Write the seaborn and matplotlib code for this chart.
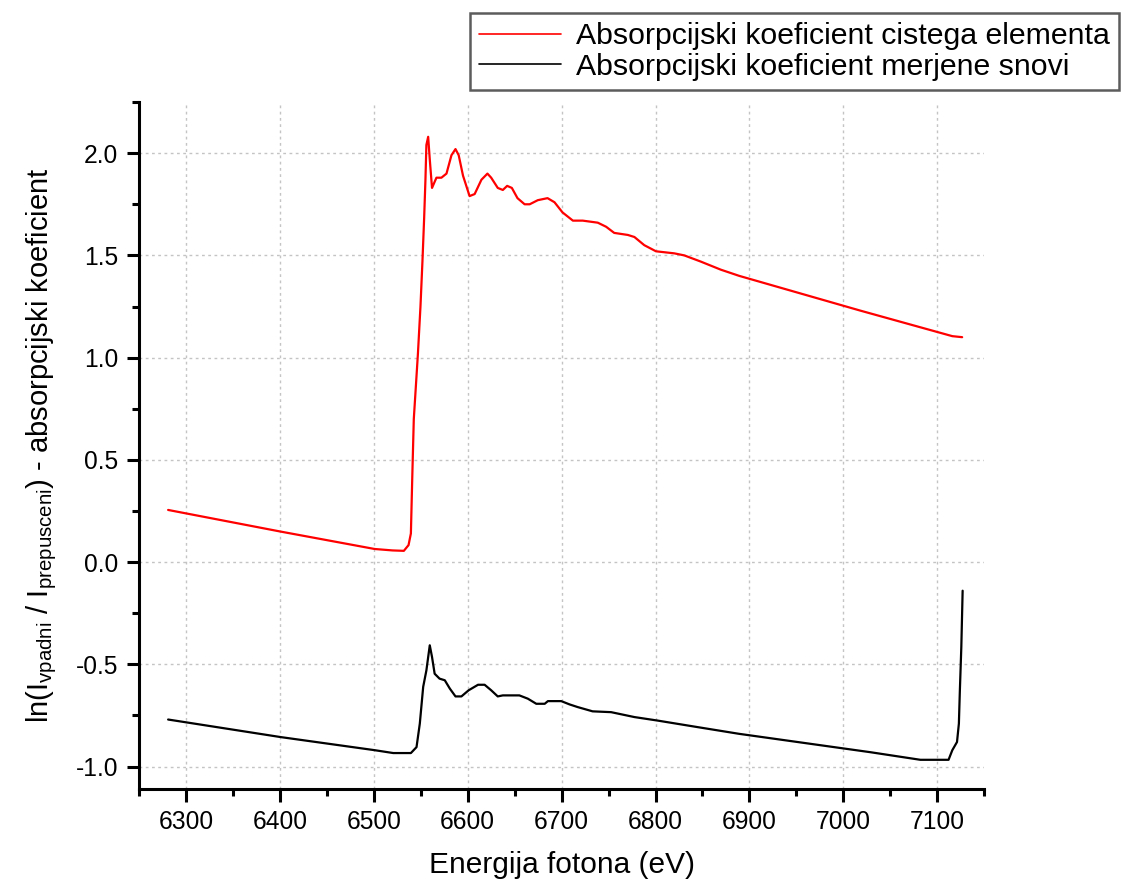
import matplotlib
matplotlib.use("Agg")
import matplotlib.pyplot as plt
from matplotlib.ticker import MultipleLocator, FormatStrFormatter
import numpy as np
import pandas as pd
import seaborn as sns

# Pure element absorption coefficient (red)
energy_pure = [6281, 6401, 6501, 6520, 6532, 6537, 6539.5, 6541, 6542.6, 6544.8,
               6547, 6549.7, 6551.8, 6553.6, 6555, 6556, 6557.9, 6559.6, 6562,
               6566.7, 6572, 6577.4, 6582.7, 6587, 6590.4, 6595, 6602, 6607.4,
               6614.6, 6621, 6625, 6632, 6637.4, 6642, 6647, 6653, 6660.6, 6666,
               6674.6, 6685, 6692.4, 6701, 6712, 6722.5, 6738.5, 6747.4, 6756,
               6770.5, 6777.5, 6788, 6800.5, 6820, 6830.6, 6848, 6869.6, 6889,
               7018, 7116, 7126.5]
mu_pure = [0.255, 0.149, 0.064, 0.057, 0.055, 0.083, 0.14, 0.42, 0.70, 0.86,
           1.02, 1.25, 1.47, 1.68, 1.87, 2.04, 2.08, 1.97, 1.83,
           1.88, 1.88, 1.90, 1.99, 2.02, 1.99, 1.89, 1.79, 1.80,
           1.87, 1.90, 1.88, 1.83, 1.82, 1.84, 1.83, 1.78, 1.75, 1.75,
           1.77, 1.78, 1.76, 1.71, 1.67, 1.67, 1.66, 1.64, 1.61,
           1.60, 1.59, 1.55, 1.52, 1.51, 1.50, 1.47, 1.43, 1.40,
           1.23, 1.105, 1.10]

# Measured sample absorption coefficient (black)
energy_sample = [6281, 6401, 6501, 6520.7, 6539.5, 6545.5, 6549, 6552.6, 6556,
                 6559.6, 6562, 6564.8, 6570, 6575.6, 6581, 6587, 6593.3, 6601,
                 6611, 6618, 6625, 6632, 6637.4, 6655, 6664, 6673, 6682, 6685.4,
                 6699.6, 6708.4, 6717, 6733, 6752.7, 6777.5, 6802, 6844.6, 6889,
                 7029, 7082, 7112, 7116, 7121, 7123, 7124, 7125.6, 7127]
mu_sample = [-0.770, -0.856, -0.920, -0.934, -0.934, -0.905, -0.79, -0.61, -0.53,
             -0.407, -0.464, -0.546, -0.570, -0.578, -0.619, -0.657, -0.657, -0.627,
             -0.600, -0.600, -0.627, -0.657, -0.652, -0.652, -0.668, -0.693, -0.693, -0.680,
             -0.680, -0.696, -0.709, -0.730, -0.734, -0.758, -0.775, -0.807, -0.840,
             -0.930, -0.967, -0.967, -0.92, -0.88, -0.79, -0.635, -0.415, -0.14]

label_pure = "Absorpcijski koeficient cistega elementa"
label_sample = "Absorpcijski koeficient merjene snovi"

df = pd.concat([
    pd.DataFrame({"E": energy_pure, "mu": mu_pure, "serija": label_pure}),
    pd.DataFrame({"E": energy_sample, "mu": mu_sample, "serija": label_sample}),
], ignore_index=True)

sns.set_style("ticks", {"axes.edgecolor": "black", "text.color": "black",
                        "axes.labelcolor": "black", "xtick.color": "black",
                        "ytick.color": "black"})
plt.rcParams["font.family"] = ["Liberation Sans", "DejaVu Sans"]
plt.rcParams["mathtext.fontset"] = "custom"
plt.rcParams["mathtext.rm"] = "Liberation Sans"
plt.rcParams["mathtext.it"] = "Liberation Sans"
plt.rcParams["axes.unicode_minus"] = False

fig = plt.figure(figsize=(11.21, 8.82), dpi=100)
ax = fig.add_axes([0.124, 0.1054, 0.754, 0.7789])

sns.lineplot(data=df, x="E", y="mu", hue="serija",
             palette={label_pure: "#ff0000", label_sample: "#000000"},
             estimator=None, linewidth=1.6, ax=ax, legend=False)

ax.set_xlim(6250, 7150)
ax.set_ylim(-1.11, 2.25)
ax.xaxis.set_major_locator(MultipleLocator(100))
ax.xaxis.set_minor_locator(MultipleLocator(50))
ax.yaxis.set_major_locator(MultipleLocator(0.5))
ax.yaxis.set_minor_locator(MultipleLocator(0.25))
ax.yaxis.set_major_formatter(FormatStrFormatter("%.1f"))

ax.grid(True, which="major", color="#c4c4c4", linestyle=(0, (2, 2.5)), linewidth=1.0)
sns.despine(ax=ax)
for s in ("left", "bottom"):
    ax.spines[s].set_linewidth(2.2)
    ax.spines[s].set_color("black")
ax.tick_params(which="major", direction="out", length=9, width=2.2, labelsize=17.7,
               pad=6, colors="black")
ax.tick_params(which="minor", direction="out", length=5, width=2.2, colors="black")

ax.set_xlabel("Energija fotona (eV)", fontsize=21.5, labelpad=12, color="black")
ax.set_ylabel(r"ln(I$_{\mathrm{vpadni}}$ / I$_{\mathrm{prepusceni}}$) - absorpcijski koeficient",
              fontsize=21, labelpad=12, color="black")

handles = [plt.Line2D([], [], color="#ff0000", linewidth=1.2),
           plt.Line2D([], [], color="#000000", linewidth=1.2)]
leg = fig.legend(handles, [label_pure, label_sample], loc="upper right",
                 bbox_to_anchor=(0.998, 0.985), fontsize=21.8, frameon=True,
                 fancybox=False, handlelength=2.7, handletextpad=0.5,
                 borderpad=0.3, labelspacing=0.08, borderaxespad=0)
leg.get_frame().set_edgecolor("#333333")
leg.get_frame().set_linewidth(1.8)
for t in leg.get_texts():
    t.set_color("black")

fig.savefig("out.png", dpi=100)
